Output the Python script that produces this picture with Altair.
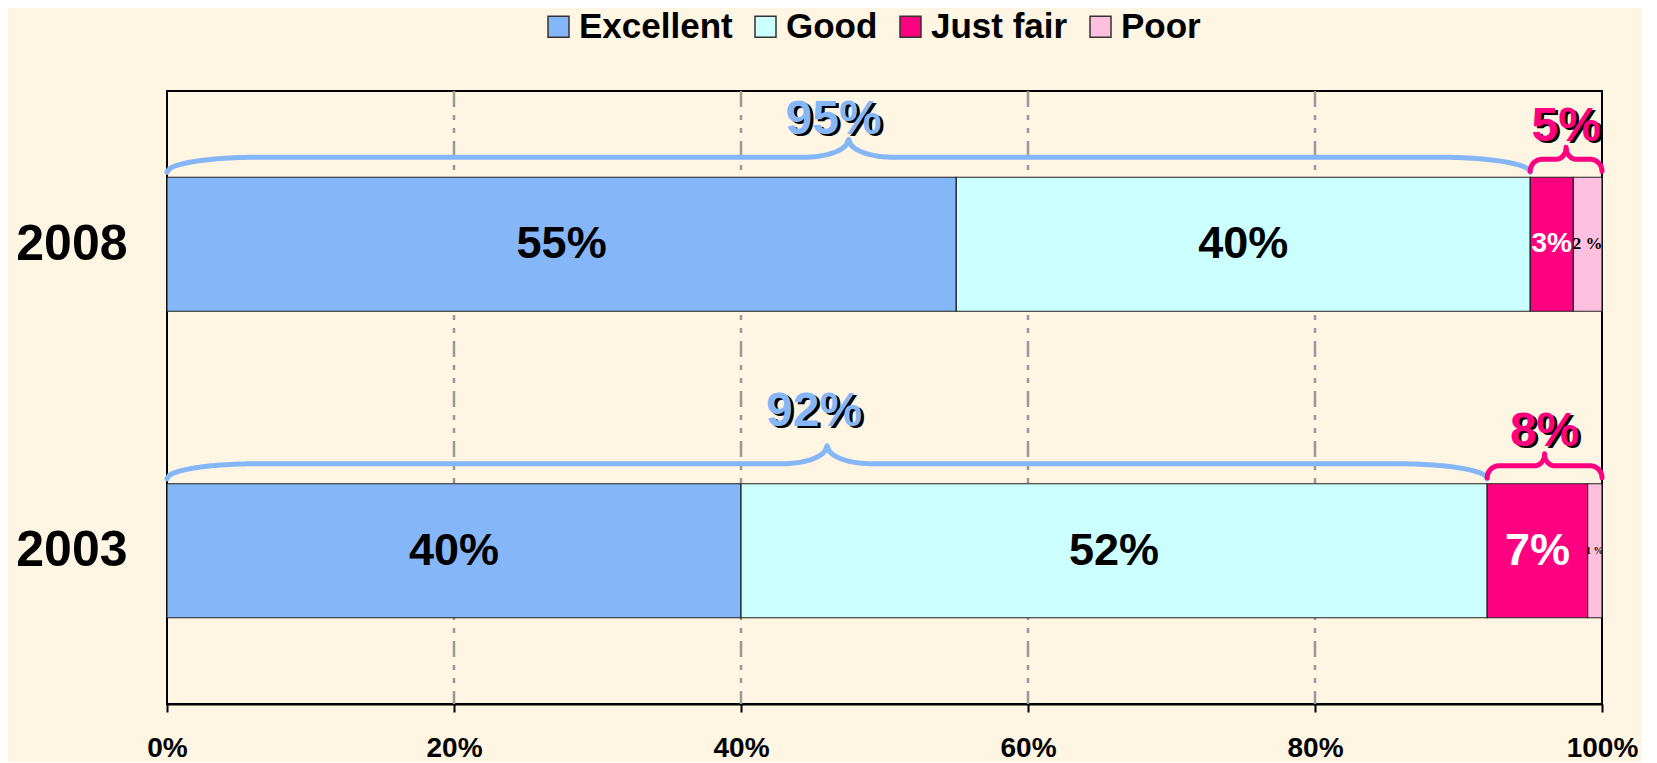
import altair as alt
import numpy as np
import pandas as pd

# ---------------- data ----------------
years = ["2008", "2003"]
categories = ["Excellent", "Good", "Just fair", "Poor"]
values_2008 = [55, 40, 3, 2]
values_2003 = [40, 52, 7, 1]
row_values = {"2008": values_2008, "2003": values_2003}
x_ticks = [0, 20, 40, 60, 80, 100]
grid_values = [20, 40, 60, 80]
cat_colors = ["#84B6F8", "#CCFFFF", "#FF0080", "#FFC0DF"]
BLUE, PINK = "#84B6F8", "#FF0080"

# ---------------- geometry helpers ----------------
W, H = 1435, 613
Y_DOMAIN = [0, 2]
PX_X = W / 100.0
PX_Y = H / (Y_DOMAIN[1] - Y_DOMAIN[0])
row_pos = {"2008": 1.5, "2003": 0.5}
BAR_HALF = 134 / 2 / PX_Y
FONT = "Liberation Sans, Arial, Helvetica, sans-serif"
SERIF = "Liberation Serif, Times New Roman, serif"

# bars
bar_rows = []
for yr in years:
    start = 0
    for cat, v in zip(categories, row_values[yr]):
        bar_rows.append({"year": yr, "cat": cat, "x0": start, "x1": start + v,
                         "y0": row_pos[yr] - BAR_HALF, "y1": row_pos[yr] + BAR_HALF,
                         "v": v})
        start += v
bars_df = pd.DataFrame(bar_rows)

# in-bar labels
label_style = {
    ("2008", "Excellent"): (45, "#000000", "sans"), ("2008", "Good"): (45, "#000000", "sans"),
    ("2008", "Just fair"): (28, "#FFFFFF", "sans"), ("2008", "Poor"): (17, "#000000", "serif"),
    ("2003", "Excellent"): (45, "#000000", "sans"), ("2003", "Good"): (45, "#000000", "sans"),
    ("2003", "Just fair"): (45, "#FFFFFF", "sans"), ("2003", "Poor"): (10, "#000000", "serif"),
}
lab_rows = []
for r in bar_rows:
    fs, col, fam = label_style[(r["year"], r["cat"])]
    txt = f"{r['v']}%" if fam == "sans" else f"{r['v']} %"
    lab_rows.append({"x": (r["x0"] + r["x1"]) / 2, "y": row_pos[r["year"]], "text": txt,
                     "fs": fs, "col": col, "fam": fam})
lab_df = pd.DataFrame(lab_rows)

# braces (spanning satisfied / unsatisfied groups)
def brace(x0, x1, base, e, h1, h2, r1, r2, n=300):
    L = (x1 - x0) * PX_X
    half = L / 2
    t = np.linspace(0, half, n)
    rise = np.full_like(t, e + h1)
    m1 = t < r1
    rise[m1] = e + h1 * np.sqrt(1 - (1 - t[m1] / r1) ** 2)
    m2 = t > half - r2
    s = half - t[m2]
    rise[m2] = e + h1 + h2 * (1 - np.sqrt(np.clip(1 - (1 - s / r2) ** 2, 0, 1)))
    xs = np.concatenate([x0 + t / PX_X, (x1 - t[::-1] / PX_X)])
    ys = np.concatenate([base + rise / PX_Y, base + rise[::-1] / PX_Y])
    return xs, ys

brace_rows = []
top_rows = []
top_style = {  # (lift px above bar top, x shift px)
    ("2008", 0): (57, -15), ("2008", 1): (50, 0),
    ("2003", 0): (72, -13), ("2003", 1): (52, 0),
}
for yr in years:
    v = row_values[yr]
    groups = [(0, v[0] + v[1], BLUE, (5, 15, 18, 90, 45)),
              (v[0] + v[1], 100, PINK, (6, 12, 12, 12, 10))]
    base = row_pos[yr] + BAR_HALF
    for gi, (a, b, col, p) in enumerate(groups):
        xs, ys = brace(a, b, base, *p)
        bid = f"{yr}-{gi}"
        for i, (xx, yy) in enumerate(zip(xs, ys)):
            brace_rows.append({"bid": bid, "i": i, "x": xx, "y": yy, "col": col})
        lift, shift = top_style[(yr, gi)]
        top_rows.append({"x": (a + b) / 2 + shift / PX_X, "y": base + lift / PX_Y,
                         "text": f"{b - a}%", "col": col})
brace_df = pd.DataFrame(brace_rows)
top_df = pd.DataFrame(top_rows)
grid_df = pd.DataFrame({"g": grid_values})

# ---------------- chart ----------------
x_scale = alt.Scale(domain=[0, 100], nice=False, zero=False)
y_scale = alt.Scale(domain=Y_DOMAIN, nice=False, zero=False)
x_axis = alt.Axis(values=x_ticks, labelExpr="datum.value + '%'", title=None, grid=False,
                  domain=True, domainColor="#000", domainWidth=2, ticks=True, tickColor="#000",
                  tickWidth=2, tickSize=8, labelFont=FONT, labelFontSize=28,
                  labelFontWeight="bold", labelColor="#000", labelPadding=22, labelFlush=False)
y_axis = alt.Axis(values=[0.5, 1.5], labelExpr="datum.value > 1 ? '2008' : '2003'", title=None,
                  grid=False, domain=False, ticks=False, labelFont=FONT, labelFontSize=50,
                  labelFontWeight="bold", labelColor="#000", labelPadding=40)

def X(f):
    return alt.X(f, type="quantitative", scale=x_scale, axis=x_axis)

def Y(f):
    return alt.Y(f, type="quantitative", scale=y_scale, axis=y_axis)

grid = alt.Chart(grid_df).mark_rule(color="#999999", strokeWidth=2.5,
                                    strokeDash=[16, 8, 5, 8, 5, 8]).encode(x=X("g"))

bars = alt.Chart(bars_df).mark_bar(stroke="#222222", strokeWidth=1.2).encode(
    x=X("x0"), x2="x1", y=Y("y0"), y2="y1",
    color=alt.Color("cat:N", scale=alt.Scale(domain=categories, range=cat_colors),
                    sort=categories,
                    legend=alt.Legend(orient="none", legendX=374, legendY=-82,
                                      direction="horizontal", title=None,
                                      symbolType="square", symbolSize=441,
                                      symbolStrokeColor="#333333", symbolStrokeWidth=1.5,
                                      labelFont=FONT, labelFontSize=35, labelFontWeight="bold",
                                      labelColor="#000", labelOffset=3, columnPadding=15,
                                      labelLimit=400)),
)

sans_labels = alt.Chart(lab_df[lab_df.fam == "sans"]).mark_text(
    font=FONT, fontWeight="bold", align="center", baseline="middle").encode(
    x=X("x"), y=Y("y"), text="text:N",
    size=alt.Size("fs:Q", scale=None), fill=alt.Fill("col:N", scale=None))

serif_labels = alt.Chart(lab_df[lab_df.fam == "serif"]).mark_text(
    font=SERIF, fontWeight="bold", align="center", baseline="middle",
    clip=True).encode(
    x=X("x"), y=Y("y"), text="text:N",
    size=alt.Size("fs:Q", scale=None), fill=alt.Fill("col:N", scale=None))

braces = alt.Chart(brace_df).mark_line(strokeWidth=5, strokeCap="round",
                                       strokeJoin="round").encode(
    x=X("x"), y=Y("y"), detail="bid:N", order="i:Q",
    stroke=alt.Stroke("col:N", scale=None))

top_shadow = alt.Chart(top_df).mark_text(font=FONT, fontWeight="bold", fontSize=48,
                                         align="center", baseline="middle", dx=3, dy=2,
                                         color="#000000").encode(
    x=X("x"), y=Y("y"), text="text:N")
top_text = alt.Chart(top_df).mark_text(font=FONT, fontWeight="bold", fontSize=48,
                                       align="center", baseline="middle").encode(
    x=X("x"), y=Y("y"), text="text:N", fill=alt.Fill("col:N", scale=None))

chart = alt.layer(grid, bars, sans_labels, serif_labels, braces, top_shadow, top_text).properties(
    width=W, height=H,
    autosize=alt.AutoSizeParams(type="none"),
    padding={"left": 159, "top": 83, "right": 40, "bottom": 58},
    background="#FEF5E2",
).configure_view(stroke="#000000", strokeWidth=2)

chart.save("out.html", embed_options={"renderer": "svg", "actions": False})
